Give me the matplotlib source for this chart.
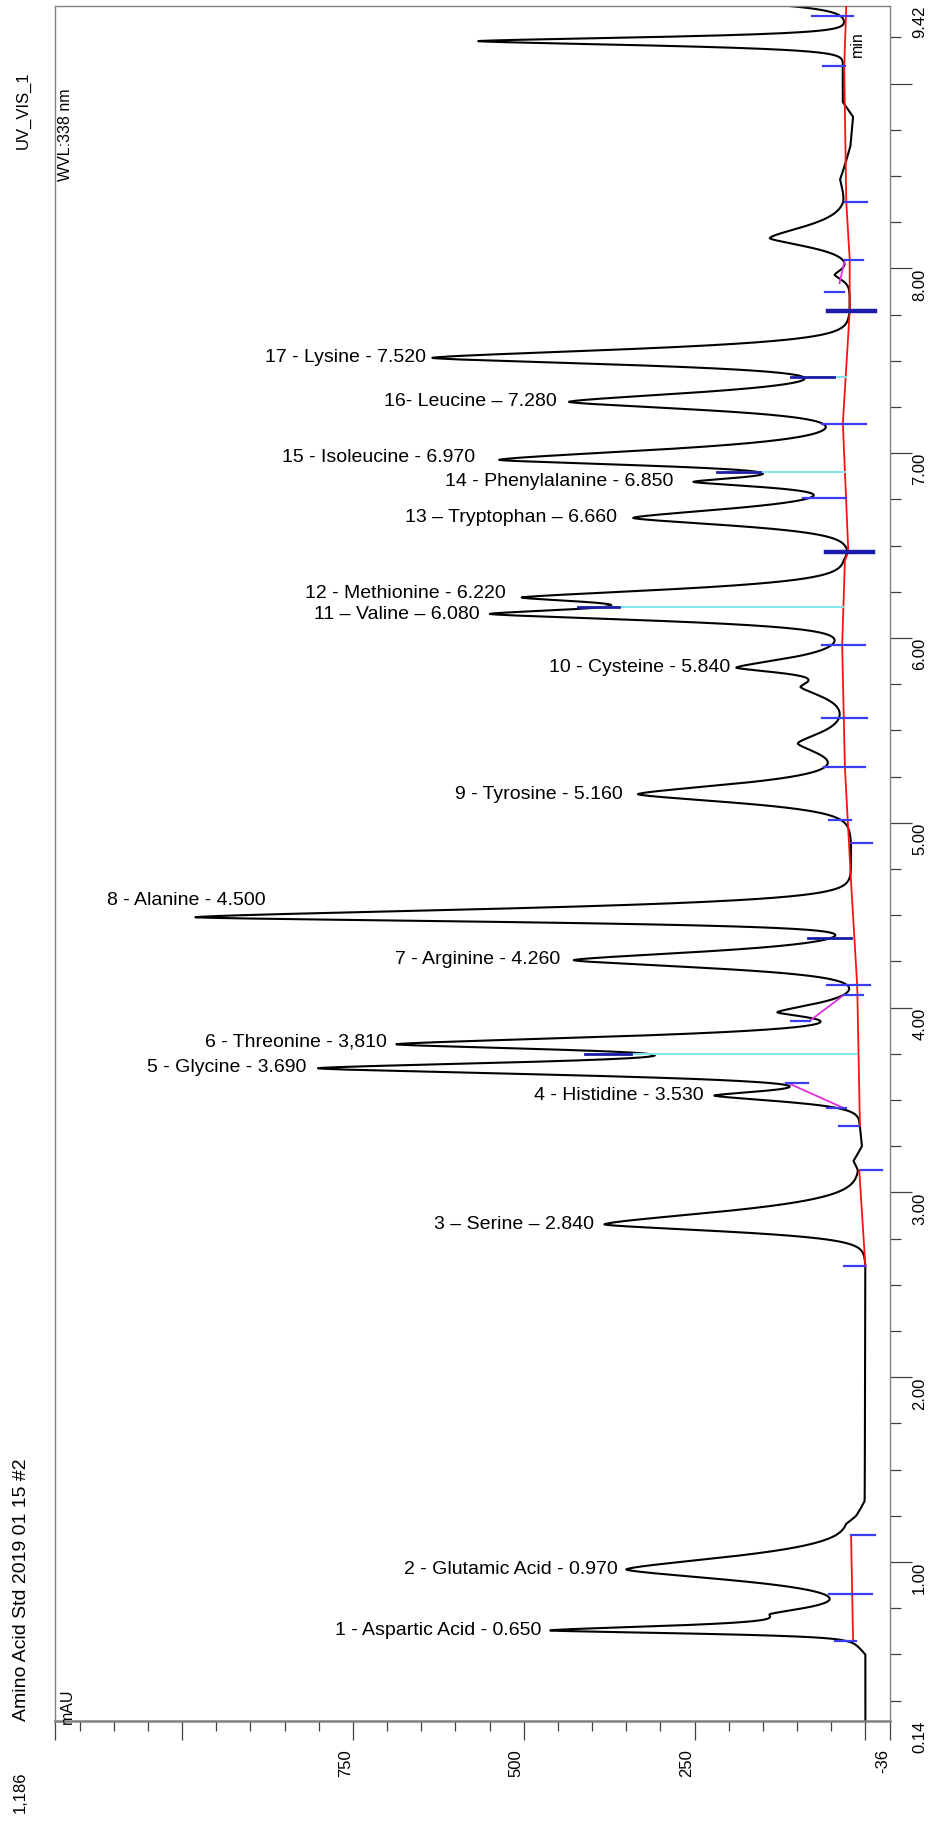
import numpy as np
import matplotlib.pyplot as plt

plt.rcParams['font.family'] = ['Liberation Sans', 'DejaVu Sans']

# peaks on the trace: retention time (min), apex signal (mAU),
# half width at half height on the early and on the late side (min)
peak_time = [0.630, 0.718, 0.960, 2.827, 3.524, 3.672, 3.802, 3.975, 4.257, 4.489,
             5.155, 5.430, 5.735, 5.840, 6.130, 6.220, 6.650, 6.845, 6.964, 7.278,
             7.516, 7.965, 8.164, 9.230, 9.470]
peak_apex = [462, 140, 350, 382, 221, 802, 687, 129, 427, 981,
             333, 99, 95, 189, 550, 503, 340, 252, 536, 434,
             634, 45, 140, 567, 300]
half_early = [0.018, 0.045, 0.062, 0.041, 0.035, 0.040, 0.035, 0.030, 0.045, 0.027,
              0.050, 0.060, 0.055, 0.030, 0.040, 0.035, 0.045, 0.030, 0.035, 0.045,
              0.040, 0.030, 0.050, 0.025, 0.035]
half_late = [0.028, 0.040, 0.075, 0.076, 0.030, 0.040, 0.045, 0.050, 0.050, 0.050,
             0.060, 0.060, 0.045, 0.054, 0.035, 0.050, 0.055, 0.030, 0.060, 0.055,
             0.050, 0.030, 0.070, 0.023, 0.040]
peak_label = ['1 - Aspartic Acid - 0.650', '', '2 - Glutamic Acid - 0.970',
              '3 \u2013 Serine \u2013 2.840', '4 - Histidine - 3.530', '5 - Glycine - 3.690',
              '6 - Threonine - 3,810', '', '7 - Arginine - 4.260', '8 - Alanine - 4.500',
              '9 - Tyrosine - 5.160', '', '', '10 - Cysteine - 5.840',
              '11 \u2013 Valine \u2013 6.080', '12 - Methionine - 6.220',
              '13 \u2013 Tryptophan \u2013 6.660', '14 - Phenylalanine - 6.850',
              '15 - Isoleucine - 6.970', '16- Leucine \u2013 7.280', '17 - Lysine - 7.520',
              '', '', '', '']

# drifting baseline of the detector signal
base_time = [0.14, 0.50, 0.575, 1.144, 1.207, 1.25, 1.33, 2.60, 3.12, 3.17, 3.25, 3.36,
             4.12, 4.68, 4.89, 5.30, 5.57, 5.96, 6.42, 6.47, 7.16, 7.77, 8.05, 8.36,
             8.48, 8.56, 8.66, 8.82, 8.90, 9.09, 9.42]
base_level = [0, 0, 18, 21, 23, 12, 1, 0, 9, 17, 5, 8,
              12, 21, 21, 30, 31, 34, 30, 25, 33, 23, 23, 28,
              37, 30, 22, 18, 33, 33, 28]

# integration: peak boundary marks, baselines, drop lines, skims
bound_time = [0.575, 0.826, 1.144, 2.60, 3.12, 3.36, 3.457, 3.59, 3.75, 3.93,
              4.067, 4.12, 4.377, 4.89, 5.015, 5.30, 5.57, 5.96, 6.17, 6.467,
              6.76, 6.897, 7.16, 7.415, 7.767, 7.875, 8.047, 8.359, 9.093, 9.364]
bound_from = [45, 53, 21, 31, 7, 39, 56, 116, 410, 109,
              31, 56, 84, 21, 53, 61, 64, 64, 421, 58,
              91, 217, 64, 109, 55, 59, 30, 30, 62, 78]
bound_to = [14, -10, -14, 1, -24, 11, 28, 84, 343, 81,
            4, -7, 21, -10, 21, 1, -2, 1, 361, -11,
            28, 154, -1, 46, -14, 31, 4, -2, 30, 18]
bound_kind = ['n', 'n', 'n', 'n', 'n', 'n', 'n', 'n', 'd', 'n',
              'n', 'n', 'd', 'n', 'n', 'n', 'n', 'n', 'd', 'D',
              'n', 'd', 'n', 'd', 'D', 'n', 'n', 'n', 'n', 'n']

red_segments = [
    ([0.575, 1.144], [18, 21]),
    ([2.60, 3.12], [0, 9]),
    ([3.36, 4.12, 4.68, 5.30, 5.96, 6.42, 6.467, 7.16, 7.77, 8.05, 8.36, 9.09, 9.42],
     [8, 12, 21, 30, 34, 30, 25, 33, 23, 23, 28, 31, 28]),
]
drop_time = [3.75, 6.17, 6.897, 7.415]
drop_from = [406, 417, 208, 82]
drop_to = [12, 33, 30, 28]
skim_lines = [(3.59, 112, 3.457, 32), (4.067, 32, 3.93, 81), (8.047, 30, 7.92, 38)]

# label placement: gap left of apex and vertical shift, in pixels
label_shift = [(8, 0), None, (8, 0), (10, 0), (11, 0), (11, 1), (9, 2), None, (13, 1), 'above',
               (15, 0), None, None, (6, 0), (10, 0), (16, 4), (16, 0), (20, 0), (24, 2),
               (12, 0), (6, 0), None, None, None, None]


def peak_shape(t, t0, he, hl, p=1.5):
    hw = np.where(t < t0, he, hl)
    s = hw / np.log(2) ** (1 / p)
    return np.exp(-(np.abs(t - t0) / s) ** p)


pt = np.array(peak_time)
he = np.array(half_early)
hl = np.array(half_late)
n = len(pt)
M = np.array([[peak_shape(pt[i], pt[j], he[j], hl[j]) for j in range(n)] for i in range(n)])
amp = np.linalg.solve(M, np.array(peak_apex, float) - np.interp(pt, base_time, base_level))

t = np.linspace(0.14, 9.42, 8000)
signal = np.interp(t, base_time, base_level)
for j in range(n):
    signal = signal + amp[j] * peak_shape(t, pt[j], he[j], hl[j])

W, H = 936, 1823
fig = plt.figure(figsize=(W / 100, H / 100), dpi=100)
ax = fig.add_axes([55 / W, 1 - 1721 / H, 835 / W, 1715 / H])
ax.set_xlim(1186, -36)
ax.set_ylim(0.14, 9.42)

ax.plot(signal, t, color='black', lw=1.5, zorder=2)

for tt, vv in red_segments:
    ax.plot(vv, tt, color='#ff1010', lw=1.3, zorder=3)
for tt, a, b in zip(drop_time, drop_from, drop_to):
    ax.plot([a, b], [tt, tt], color='#7fe6ee', lw=1.4, zorder=3)
for t0, v0, t1, v1 in skim_lines:
    ax.plot([v0, v1], [t0, t1], color='#e030e0', lw=1.3, zorder=3)
for tt, a, b, k in zip(bound_time, bound_from, bound_to, bound_kind):
    if k == 'n':
        ax.plot([a, b], [tt, tt], color='#3c3cf0', lw=1.6, zorder=4)
    elif k == 'd':
        ax.plot([a, b], [tt, tt], color='#1c1ca8', lw=2.0, zorder=4)
    else:
        ax.plot([a, b], [tt, tt], color='#1c1ca8', lw=3.2, zorder=4)

for i, lab in enumerate(peak_label):
    if not lab:
        continue
    sh = label_shift[i]
    if sh == 'above':
        ax.annotate(lab, xy=(peak_apex[i], peak_time[i]), xytext=(-9 * 0.72, 8 * 0.72),
                    textcoords='offset points', ha='center', va='bottom', fontsize=14)
    else:
        ax.annotate(lab, xy=(peak_apex[i], peak_time[i]), xytext=(-sh[0] * 0.72, sh[1] * 0.72),
                    textcoords='offset points', ha='right', va='center', fontsize=14)

# axes frame and ticks
for side in ['left', 'top', 'right']:
    ax.spines[side].set_color('#808080')
    ax.spines[side].set_linewidth(1.0)
ax.spines['bottom'].set_color('#808080')
ax.spines['bottom'].set_linewidth(1.8)

ax.set_xticks([1186, 1000, 750, 500, 250, 0, -36])
ax.set_xticks([v for v in range(50, 1186, 50) if v % 250], minor=True)
ax.set_xticklabels([])
ax.tick_params(axis='x', which='major', direction='out', length=14, width=0.9, color='#404040')
ax.tick_params(axis='x', which='minor', direction='out', length=7, width=0.9, color='#404040')

ax.yaxis.tick_right()
ax.set_yticks(range(1, 10))
ax.set_yticks([q / 4 for q in range(1, 38) if q % 4], minor=True)
ax.set_yticklabels([])
ax.tick_params(axis='y', which='major', direction='out', length=16, width=0.9, color='#404040')
ax.tick_params(axis='y', which='minor', direction='out', length=8, width=0.9, color='#404040')

for v, lab in zip([750, 500, 250, -36], ['750', '500', '250', '-36']):
    ax.annotate(lab, xy=(v, 0), xycoords=('data', 'axes fraction'), xytext=(0, -20),
                textcoords='offset points', rotation=90, ha='right', va='top', fontsize=12)
for v, lab in zip([0.14, 1, 2, 3, 4, 5, 6, 7, 8, 9.42],
                  ['0.14', '1.00', '2.00', '3.00', '4.00', '5.00', '6.00', '7.00', '8.00', '9.42']):
    ax.annotate(lab, xy=(1, v), xycoords=('axes fraction', 'data'), xytext=(16, 0),
                textcoords='offset points', rotation=90, ha='left', va='top', fontsize=12)


def fpos(x, y):
    return x / W, 1 - y / H


fig.text(*fpos(23, 110), 'UV_VIS_1', rotation=90, ha='center', va='center', fontsize=12)
fig.text(*fpos(66, 135), 'WVL:338 nm', rotation=90, ha='center', va='center', fontsize=11.5)
fig.text(*fpos(22, 1590), 'Amino Acid Std 2019 01 15 #2', rotation=90, ha='center', va='center', fontsize=14)
fig.text(*fpos(20, 1792), '1,186', rotation=90, ha='center', va='center', fontsize=12)
fig.text(*fpos(67, 1706), 'mAU', rotation=90, ha='center', va='center', fontsize=11.5)
fig.text(*fpos(857, 44), 'min', rotation=90, ha='center', va='center', fontsize=11.5)

fig.savefig('out.png', dpi=100)
